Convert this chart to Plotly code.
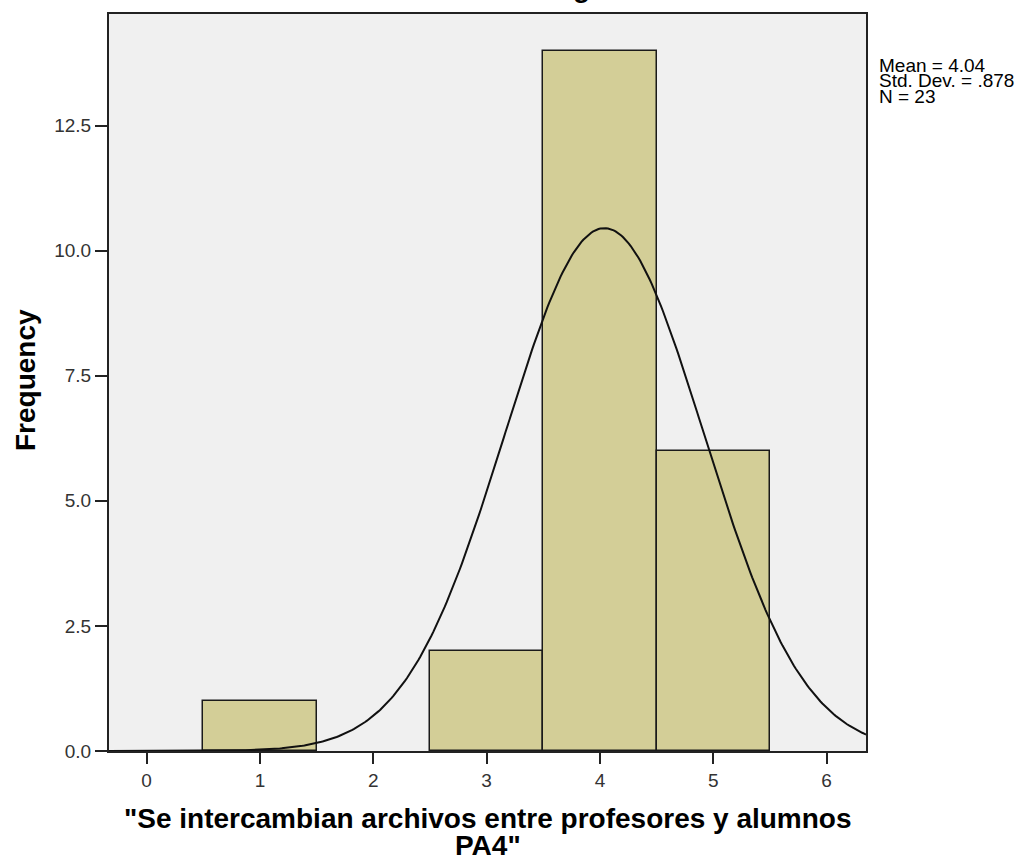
import numpy as np
import plotly.graph_objects as go

# ---- data ----
bin_centers = [1, 3, 4, 5]
frequencies = [1, 2, 14, 6]
bin_width = 1.0
mean_val = 4.04
sd_val = 0.878
n_val = 23
x_ticks = [0, 1, 2, 3, 4, 5, 6]
y_ticks = [0.0, 2.5, 5.0, 7.5, 10.0, 12.5]
stats_lines = ["Mean = 4.04", "Std. Dev. = .878", "N = 23"]
x_title_lines = ['"Se intercambian archivos entre profesores y alumnos', 'PA4"']
y_title = "Frequency"
chart_title = "Histogram"

# ---- layout geometry ----
W, H = 1028, 861
L, R, T, B = 109, 162, 12, 110
pw, ph = W - L - R, H - T - B
x_range = [-0.332, 6.348]
y_range = [0, 14.73]

def px_to_paper_x(px):
    return (px - L) / pw

def px_to_paper_y(py):
    return (H - B - py) / ph

FONT = "Liberation Sans, Arial, sans-serif"

fig = go.Figure()
fig.add_trace(go.Bar(
    x=bin_centers, y=frequencies, width=bin_width,
    marker=dict(color="#D3CE97", line=dict(color="#1a1a1a", width=1.5)),
    hoverinfo="x+y", showlegend=False,
))

# fitted normal curve from the reported statistics
xc = np.linspace(x_range[0], x_range[1], 400)
yc = n_val * bin_width / (sd_val * np.sqrt(2 * np.pi)) * np.exp(-0.5 * ((xc - mean_val) / sd_val) ** 2)
fig.add_trace(go.Scatter(x=xc, y=yc, mode="lines",
                         line=dict(color="#111111", width=2),
                         hoverinfo="skip", showlegend=False))

fig.update_layout(
    width=W, height=H,
    margin=dict(l=L, r=R, t=T, b=B, pad=0),
    paper_bgcolor="white", plot_bgcolor="#F0F0F0",
    font=dict(family=FONT, size=19, color="#333333"),
    bargap=0,
)
fig.update_xaxes(
    range=x_range, tickvals=x_ticks, ticktext=[str(v) for v in x_ticks],
    ticks="outside", ticklen=11, tickwidth=2, tickcolor="#222222",
    showline=True, linecolor="#222222", linewidth=2, mirror=True,
    showgrid=False, zeroline=False,
    tickfont=dict(family=FONT, size=19, color="#333333"),
)
fig.update_yaxes(
    range=y_range, tickvals=y_ticks, ticktext=[f"{v:.1f}" for v in y_ticks],
    ticks="outside", ticklen=12, tickwidth=2, tickcolor="#222222",
    showline=True, linecolor="#222222", linewidth=2, mirror=True,
    showgrid=False, zeroline=False,
    tickfont=dict(family=FONT, size=19, color="#333333"),
)

ann = []
# cut-off title at top (only its lowest pixels show, as in the reference)
ann.append(dict(text=f"<b>{chart_title}</b>", xref="paper", yref="paper",
                x=px_to_paper_x(572), y=px_to_paper_y(-15), xanchor="center", yanchor="middle",
                showarrow=False, font=dict(family=FONT, size=28, color="#000000")))
# stats box (tight line spacing as in the reference)
for i, line in enumerate(stats_lines):
    base = 70 + 15.5 * i
    ann.append(dict(text=line, xref="paper", yref="paper",
                    x=px_to_paper_x(877), y=px_to_paper_y(base - 6.6), xanchor="left", yanchor="middle",
                    showarrow=False, font=dict(family=FONT, size=19, color="#000000")))
# x title (two lines)
for i, line in enumerate(x_title_lines):
    base = 828 + 27 * i
    ann.append(dict(text=f"<b>{line}</b>", xref="paper", yref="paper",
                    x=0.5, y=px_to_paper_y(base - 9.7), xanchor="center", yanchor="middle",
                    showarrow=False, font=dict(family=FONT, size=28, color="#000000")))
# y title
ann.append(dict(text=f"<b>{y_title}</b>", xref="paper", yref="paper",
                x=px_to_paper_x(25), y=px_to_paper_y(379), xanchor="center", yanchor="middle",
                textangle=-90, showarrow=False, font=dict(family=FONT, size=28, color="#000000")))
fig.update_layout(annotations=ann)

# remove the default 8px page margin so the figure sits at the window origin
fig.write_html("out.html", config={"displayModeBar": False},
               post_script="document.body.style.margin='0';document.body.style.overflow='hidden';")
